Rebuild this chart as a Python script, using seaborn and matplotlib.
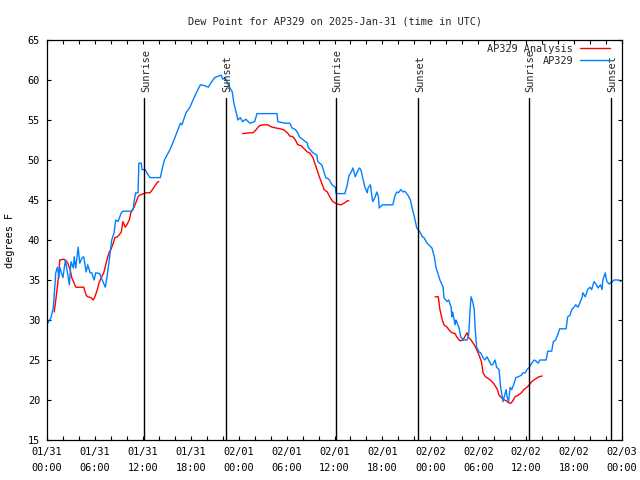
import matplotlib
matplotlib.use("Agg")
import matplotlib.pyplot as plt
from matplotlib.ticker import MultipleLocator
from matplotlib.lines import Line2D
import seaborn as sns
import pandas as pd

# hours after 2025-01-31 00:00 UTC, dew point in degrees F
obs_hours = [0.1, 0.5, 0.8, 1.0, 1.1, 1.3, 1.5, 1.6, 1.8, 2.0, 2.3, 2.5, 2.8, 3.0, 3.3, 3.4, 3.6, 3.9, 4.1, 4.4,
             4.6, 4.9, 5.1, 5.4, 5.6, 5.9, 6.1, 6.6, 7.0, 7.3, 7.5, 7.8, 8.1, 8.4, 8.6, 8.9, 9.3, 9.5, 10.5, 10.8,
             10.9, 11.1, 11.4, 11.5, 11.8, 11.9, 12.3, 12.5, 12.9, 14.2, 14.4, 14.7, 15.4, 15.9, 16.4, 16.7, 16.9, 17.4, 17.9, 18.2,
             18.7, 19.2, 19.7, 20.2, 20.5, 21.0, 21.5, 21.8, 22.0, 22.3, 22.7, 23.2, 23.4, 23.7, 23.9, 24.2, 24.5, 24.9, 25.4, 26.0,
             26.3, 27.6, 28.8, 28.9, 29.8, 30.4, 30.7, 31.1, 31.4, 31.6, 32.6, 32.7, 33.3, 33.8, 33.9, 34.4, 34.6, 34.9, 35.3, 35.7,
             36.1, 36.2, 37.3, 37.6, 37.8, 38.1, 38.3, 38.6, 38.8, 39.1, 39.3, 39.6, 39.8, 40.1, 40.2, 40.5, 40.7, 40.8, 41.1, 41.3,
             41.5, 41.6, 42.0, 43.3, 43.6, 43.8, 44.0, 44.3, 44.6, 44.8, 45.2, 45.5, 45.7, 46.0, 46.3, 46.7, 47.0, 47.2, 47.6, 47.8,
             48.2, 48.5, 48.7, 49.2, 49.6, 49.7, 50.1, 50.3, 50.6, 50.7, 50.8, 51.1, 51.2, 51.3, 51.6, 51.8, 52.1, 52.6, 52.8, 53.0,
             53.1, 53.3, 53.5, 53.6, 53.8, 54.1, 54.3, 54.6, 54.8, 55.1, 55.3, 55.6, 55.8, 56.1, 56.3, 56.6, 56.8, 57.1, 57.3, 57.5,
             57.6, 57.8, 58.0, 58.2, 58.5, 58.7, 59.0, 59.4, 59.6, 59.9, 60.1, 60.4, 60.7, 61.0, 61.2, 61.5, 61.7, 62.5, 62.7, 63.2,
             63.4, 63.7, 64.0, 64.2, 65.0, 65.2, 65.5, 65.7, 66.0, 66.2, 66.5, 66.7, 67.0, 67.1, 67.4, 67.7, 68.0, 68.2, 68.5, 68.8,
             69.0, 69.3, 69.5, 69.6, 69.9, 70.1, 70.4, 70.8, 71.0, 71.6, 71.8]
obs_dewpt = [29.6, 30.3, 31.6, 34.4, 35.9, 36.6, 35.3, 36.6, 35.9, 35.3, 37.5, 36.3, 34.4, 37.3, 36.5, 37.9, 36.5, 39.1, 37.1, 37.8,
             37.9, 36.0, 36.9, 35.9, 35.9, 35.0, 35.9, 35.8, 34.8, 34.1, 35.3, 37.5, 40.0, 40.9, 42.5, 42.3, 43.4, 43.6, 43.6, 43.8,
             44.8, 45.9, 45.9, 49.6, 49.6, 48.8, 48.8, 48.4, 47.8, 47.8, 48.8, 50.0, 51.3, 52.5, 53.8, 54.6, 54.4, 55.9, 56.6, 57.3,
             58.4, 59.4, 59.3, 59.1, 59.6, 60.3, 60.5, 60.6, 60.1, 60.3, 59.4, 58.5, 57.1, 55.9, 55.0, 55.3, 54.8, 55.1, 54.6, 54.8,
             55.8, 55.8, 55.8, 54.8, 54.6, 54.6, 54.0, 53.8, 53.4, 52.9, 52.1, 51.6, 50.9, 50.6, 49.8, 49.4, 48.8, 47.8, 47.6, 46.9,
             46.6, 45.8, 45.8, 46.9, 48.0, 48.5, 49.0, 47.9, 48.4, 49.0, 48.8, 47.5, 46.6, 45.9, 46.5, 46.9, 45.3, 44.8, 45.4, 46.0,
             45.4, 44.0, 44.4, 44.4, 45.6, 46.0, 45.9, 46.3, 46.0, 46.1, 45.6, 45.0, 44.1, 42.9, 41.5, 41.0, 40.4, 40.3, 39.6, 39.4,
             39.0, 37.9, 36.6, 35.0, 34.1, 32.8, 32.3, 32.5, 31.6, 30.4, 31.0, 29.4, 30.0, 29.8, 29.0, 27.9, 27.5, 27.5, 28.1, 31.6,
             32.9, 32.3, 31.3, 29.1, 26.6, 26.0, 25.9, 25.3, 25.0, 25.4, 25.0, 24.4, 24.4, 25.0, 24.1, 23.8, 21.6, 19.8, 20.6, 21.3,
             20.4, 19.8, 21.6, 21.3, 22.1, 22.8, 22.9, 23.1, 23.4, 23.4, 23.8, 24.1, 24.6, 25.0, 24.9, 24.6, 25.0, 25.0, 26.1, 26.1,
             27.3, 27.5, 28.3, 28.9, 28.9, 30.4, 30.6, 31.3, 31.6, 31.9, 31.6, 32.1, 32.8, 33.4, 32.9, 33.8, 34.1, 33.8, 34.8, 34.4,
             34.0, 34.4, 33.8, 35.0, 35.9, 34.8, 34.5, 34.8, 35.0, 35.0, 34.8]

# analysis series comes in three separate runs
ana1_hours = [0.9, 1.1, 1.4, 1.6, 2.1, 2.4, 2.6, 2.9, 3.1, 3.4, 3.6, 4.6, 4.9, 5.1, 5.5, 5.8, 6.0, 6.3, 6.5, 6.8,
              7.1, 7.5, 7.8, 8.0, 8.3, 8.5, 8.8, 9.0, 9.3, 9.5, 9.8, 10.0, 10.3, 10.5, 10.9, 11.1, 11.4, 11.6, 12.4, 12.9,
              13.2, 13.4, 13.8, 14.0]
ana1_dewpt = [31.0, 32.5, 35.0, 37.5, 37.6, 37.4, 37.1, 36.3, 35.3, 34.6, 34.1, 34.1, 33.1, 32.9, 32.8, 32.5, 32.9, 33.8, 34.6, 35.3,
              35.9, 37.5, 38.5, 38.8, 39.6, 40.3, 40.4, 40.6, 41.0, 42.3, 41.6, 41.9, 42.5, 43.4, 44.1, 44.6, 45.4, 45.6, 45.9, 45.9,
              46.3, 46.6, 47.2, 47.3]
ana2_hours = [24.5, 25.4, 25.8, 26.2, 26.6, 27.1, 27.6, 28.2, 28.7, 29.2, 29.6, 30.1, 30.4, 30.8, 31.1, 31.4, 31.8, 32.1, 32.6, 32.9,
              33.3, 33.6, 33.8, 34.1, 34.4, 34.7, 35.1, 35.4, 35.8, 36.3, 36.8, 37.2, 37.6, 37.8]
ana2_dewpt = [53.3, 53.4, 53.4, 53.8, 54.3, 54.4, 54.4, 54.1, 54.0, 53.9, 53.8, 53.4, 53.0, 52.9, 52.5, 51.9, 51.8, 51.5, 51.0, 50.9,
              50.3, 49.4, 48.8, 47.9, 47.1, 46.3, 46.0, 45.4, 44.8, 44.5, 44.4, 44.6, 44.9, 44.9]
ana3_hours = [48.6, 49.0, 49.2, 49.5, 49.7, 50.1, 50.3, 50.7, 51.1, 51.3, 51.7, 52.1, 52.3, 52.6, 52.8, 53.1, 53.5, 53.8, 54.1, 54.4,
              54.6, 54.9, 55.1, 55.5, 55.9, 56.1, 56.4, 56.6, 56.9, 57.1, 57.5, 57.9, 58.1, 58.4, 58.6, 59.0, 59.4, 59.7, 60.1, 60.4,
              60.7, 61.1, 61.6, 62.0]
ana3_dewpt = [32.9, 32.9, 31.3, 30.0, 29.4, 29.1, 28.8, 28.4, 28.3, 27.9, 27.4, 27.5, 27.9, 28.4, 27.8, 27.5, 26.9, 26.3, 25.6, 24.8,
              23.4, 22.9, 22.8, 22.5, 22.1, 21.8, 21.3, 20.6, 20.3, 20.1, 19.9, 19.6, 19.6, 20.0, 20.4, 20.6, 20.9, 21.3, 21.6, 21.9,
              22.3, 22.6, 22.9, 23.0]

sun_hours = [12.2, 22.4, 36.2, 46.5, 60.3, 70.6]
sun_names = ["Sunrise", "Sunset", "Sunrise", "Sunset", "Sunrise", "Sunset"]

tick_hours = list(range(0, 73, 6))
tick_labels = ["01/31\n00:00", "01/31\n06:00", "01/31\n12:00", "01/31\n18:00",
               "02/01\n00:00", "02/01\n06:00", "02/01\n12:00", "02/01\n18:00",
               "02/02\n00:00", "02/02\n06:00", "02/02\n12:00", "02/02\n18:00",
               "02/03\n00:00"]

sns.set_style("ticks")
plt.rcParams["font.family"] = ["DejaVu Sans Mono"]
fs = 7.4

fig = plt.figure(figsize=(6.4, 4.8), dpi=100)
ax = fig.add_axes([47 / 640, 40 / 480, 575 / 640, 400 / 480])

red = "#ff0000"
blue = "#0080ff"

for hrs, vals in [(ana1_hours, ana1_dewpt), (ana2_hours, ana2_dewpt), (ana3_hours, ana3_dewpt)]:
    seg = pd.DataFrame({"hour": hrs, "dewpt": vals})
    sns.lineplot(data=seg, x="hour", y="dewpt", color=red, lw=1.0, ax=ax)

obs = pd.DataFrame({"hour": obs_hours, "dewpt": obs_dewpt})
sns.lineplot(data=obs, x="hour", y="dewpt", color=blue, lw=1.0, ax=ax)

# sunrise / sunset markers
for h, name in zip(sun_hours, sun_names):
    ax.plot([h, h], [15, 57.75], color="black", lw=1.0)
    ax.text(h + 0.2, 58.5, name, rotation=90, ha="center", va="bottom", fontsize=fs)

ax.set_xlim(0, 72)
ax.set_ylim(15, 65)
ax.set_xticks(tick_hours)
ax.set_xticklabels(tick_labels, fontsize=fs)
for lbl in ax.get_xticklabels():
    lbl.set_linespacing(1.75)
ax.xaxis.set_minor_locator(MultipleLocator(2))
ax.yaxis.set_major_locator(MultipleLocator(5))
ax.tick_params(axis="both", which="both", direction="in", top=True, right=True,
               length=3, width=0.8, labelsize=fs, pad=5, color="black", labelcolor="black")
for sp in ax.spines.values():
    sp.set_color("black")
    sp.set_linewidth(0.9)

ax.set_xlabel("")
ax.set_ylabel("degrees F", fontsize=fs, color="black")
ax.yaxis.set_label_coords(-32 / 575, 0.5)
ax.set_title("Dew Point for AP329 on 2025-Jan-31 (time in UTC)", fontsize=fs, pad=11)

handles = [Line2D([], [], color=red, lw=1.0), Line2D([], [], color=blue, lw=1.0)]
ax.legend(handles, ["AP329 Analysis", "AP329"], loc="upper right", frameon=False,
          markerfirst=False, fontsize=fs, handlelength=2.9, handletextpad=0.7,
          labelspacing=0.2, borderpad=0, borderaxespad=0,
          bbox_to_anchor=(1 - 12 / 575, 1 - 4 / 400))

fig.savefig("out.png", dpi=100)
